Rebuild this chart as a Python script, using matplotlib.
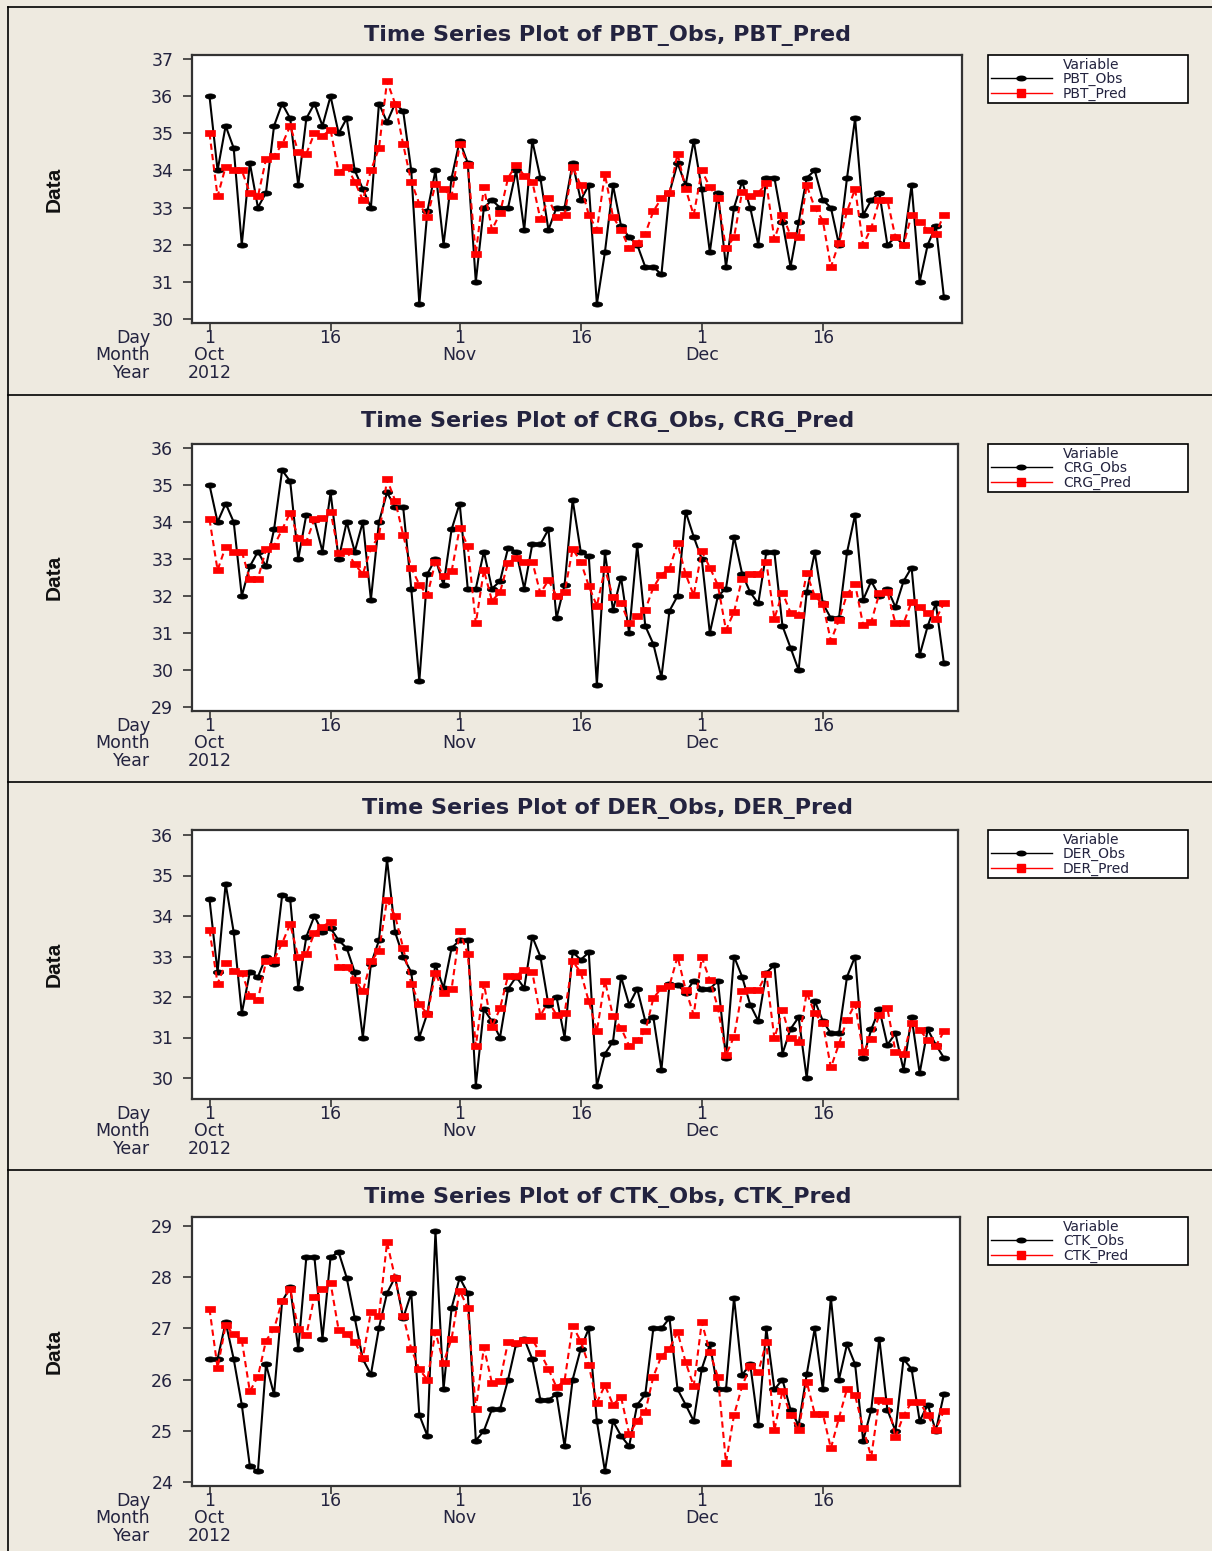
import numpy as np
import pandas as pd
import matplotlib
matplotlib.use("Agg")
import matplotlib.pyplot as plt
from matplotlib.path import Path
from matplotlib.lines import Line2D

# ---------------- data ----------------
dates = pd.date_range("2012-10-01", "2012-12-31", freq="D")

pbt_obs = [36.0, 34.0, 35.2, 34.6, 32.0, 34.2, 33.0, 33.4, 35.2, 35.8, 35.4, 33.6, 35.4, 35.8, 35.2, 36.0,
           35.0, 35.4, 34.0, 33.5, 33.0, 35.8, 35.3, 35.8, 35.6, 34.0, 30.4, 32.9, 34.0, 32.0, 33.8, 34.8,
           34.2, 31.0, 33.0, 33.2, 33.0, 33.0, 34.0, 32.4, 34.8, 33.8, 32.4, 33.0, 33.0,
           34.2, 33.2, 33.6, 30.4, 31.8, 33.6, 32.5, 32.2, 32.0, 31.4, 31.4, 31.2, 33.4, 34.2, 33.6, 34.8,
           33.5, 31.8, 33.4, 31.4, 33.0, 33.7, 33.0, 32.0, 33.8, 33.8, 32.6, 31.4, 32.6, 33.8, 34.0, 33.2,
           33.0, 32.0, 33.8, 35.4, 32.8, 33.2, 33.4, 32.0, 32.2, 32.0, 33.6, 31.0, 32.0, 32.5, 30.6]
pbt_pred = [35.0, 33.3, 34.1, 34.0, 34.0, 33.4, 33.3, 34.3, 34.4, 34.7, 35.2, 34.5, 34.45, 35.0, 34.93, 35.1,
            33.95, 34.1, 33.7, 33.2, 34.0, 34.6, 36.4, 35.8, 34.7, 33.7, 33.1, 32.75, 33.63, 33.5, 33.3, 34.7,
            34.15, 31.75, 33.55, 32.4, 32.85, 33.8, 34.15, 33.86, 33.7, 32.69, 33.25, 32.75, 32.8,
            34.1, 33.6, 32.8, 32.4, 33.9, 32.75, 32.4, 31.9, 32.05, 32.3, 32.9, 33.25, 33.4, 34.45, 33.5, 32.8,
            34.0, 33.55, 33.25, 31.9, 32.2, 33.43, 33.3, 33.4, 33.65, 32.15, 32.8, 32.25, 32.2, 33.6, 33.0, 32.65,
            31.4, 32.05, 32.9, 33.5, 32.0, 32.45, 33.2, 33.2, 32.2, 32.0, 32.8, 32.6, 32.4, 32.3, 32.8]

crg_obs = [35.0, 34.0, 34.5, 34.0, 32.0, 32.8, 33.2, 32.8, 33.8, 35.4, 35.1, 33.0, 34.2, 34.05, 33.2, 34.8,
           33.0, 34.0, 33.2, 34.0, 31.9, 34.0, 34.8, 34.4, 34.4, 32.2, 29.7, 32.6, 33.0, 32.3, 33.8, 34.5,
           32.2, 32.2, 33.2, 32.2, 32.4, 33.3, 33.2, 32.2, 33.4, 33.4, 33.8, 31.4, 32.3, 34.6, 33.2,
           33.08, 29.6, 33.18, 31.62, 32.5, 31.0, 33.38, 31.19, 30.7, 29.8, 31.6, 32.0, 34.28, 33.6, 33.0,
           31.0, 32.0, 32.2, 33.6, 32.6, 32.1, 31.8, 33.18, 33.18, 31.19, 30.6, 30.0, 32.1, 33.18, 31.8, 31.4,
           31.4, 33.18, 34.2, 31.9, 32.4, 32.0, 32.2, 31.7, 32.4, 32.77, 30.4, 31.19, 31.8, 30.19]
crg_pred = [34.07, 32.7, 33.33, 33.2, 33.2, 32.45, 32.47, 33.26, 33.35, 33.8, 34.25, 33.56, 33.47, 34.07, 34.1,
            34.28, 33.17, 33.21, 32.86, 32.59, 33.29, 33.62, 35.15, 34.58, 33.65, 32.76, 32.31, 32.02, 32.93,
            32.54, 32.67, 33.83, 33.35, 31.26, 32.7, 31.87, 32.1, 32.9, 33.03, 32.93, 32.93, 32.07, 32.43, 32.0,
            32.1, 33.27, 32.93,
            32.27, 31.73, 32.74, 31.96, 31.8, 31.26, 31.45, 31.63, 32.23, 32.58, 32.74, 33.42, 32.59, 32.02,
            33.21, 32.77, 32.29, 31.08, 31.57, 32.47, 32.59, 32.59, 32.91, 31.39, 32.09, 31.55, 31.48, 32.61,
            32.0, 31.78, 30.79, 31.35, 32.05, 32.32, 31.21, 31.3, 32.07, 32.11, 31.26, 31.26, 31.84, 31.69,
            31.53, 31.37, 31.8]

der_obs = [34.41, 32.61, 34.8, 33.6, 31.6, 32.61, 32.5, 32.99, 32.81, 34.51, 34.41, 32.22, 33.49, 34.0, 33.6,
           33.7, 33.4, 33.21, 32.61, 31.0, 32.81, 33.4, 35.4, 33.6, 33.0, 32.61, 31.0, 31.6, 32.8, 32.22, 33.21,
           33.4, 33.4, 29.81, 31.7, 31.4, 31.0, 32.2, 32.5, 32.22, 33.49, 33.0, 31.81, 32.0, 31.0, 33.11, 32.92,
           33.1, 29.81, 30.6, 30.9, 32.5, 31.81, 32.2, 31.41, 31.5, 30.2, 32.32, 32.3, 32.11, 32.4, 32.2, 32.2,
           32.4, 30.5, 33.0, 32.5, 31.81, 31.41, 32.6, 32.79, 30.6, 31.21, 31.5, 30.0, 31.91, 31.41, 31.1, 31.1,
           32.5, 33.0, 30.5, 31.2, 31.7, 30.82, 31.1, 30.2, 31.5, 30.12, 31.2, 30.82, 30.5]
der_pred = [33.65, 32.33, 32.83, 32.65, 32.6, 32.03, 31.93, 32.88, 32.92, 33.33, 33.8, 32.98, 33.06, 33.58, 33.74,
            33.86, 32.75, 32.75, 32.42, 32.14, 32.88, 33.14, 34.4, 34.0, 33.21, 32.33, 31.83, 31.58, 32.59, 32.11,
            32.2, 33.62, 33.06, 30.78, 32.33, 31.26, 31.72, 32.53, 32.53, 32.67, 32.61, 31.54, 31.89, 31.56, 31.6,
            32.88, 32.61,
            31.89, 31.16, 32.4, 31.53, 31.23, 30.8, 30.94, 31.15, 31.97, 32.22, 32.28, 33.0, 32.18, 31.56, 32.98,
            32.42, 31.74, 30.57, 31.02, 32.14, 32.18, 32.18, 32.57, 30.98, 31.67, 30.98, 30.88, 32.11, 31.6,
            31.35, 30.26, 30.84, 31.44, 31.83, 30.63, 30.96, 31.56, 31.72, 30.65, 30.59, 31.35, 31.19, 30.94,
            30.79, 31.15]

ctk_obs = [26.4, 26.4, 27.12, 26.4, 25.51, 24.31, 24.21, 26.3, 25.71, 27.53, 27.8, 26.6, 28.39, 28.39, 26.8,
           28.39, 28.49, 27.99, 27.2, 26.4, 26.1, 27.01, 27.69, 28.0, 27.2, 27.69, 25.31, 24.9, 28.9, 25.81, 27.4,
           27.99, 27.69, 24.81, 25.0, 25.42, 25.42, 26.0, 26.7, 26.8, 26.4, 25.61, 25.61, 25.71, 24.7, 26.0, 26.6,
           27.0, 25.19, 24.21, 25.19, 24.9, 24.7, 25.51, 25.71, 27.0, 27.0, 27.2, 25.81, 25.51, 25.19, 26.21,
           26.69, 25.81, 25.81, 27.6, 26.09, 26.3, 25.11, 27.0, 25.81, 26.0, 25.41, 25.11, 26.1, 27.0, 25.81,
           27.6, 26.0, 26.69, 26.3, 24.81, 25.41, 26.8, 25.41, 25.0, 26.4, 26.21, 25.19, 25.51, 25.0, 25.71]
ctk_pred = [27.38, 26.23, 27.06, 26.89, 26.77, 25.77, 26.06, 26.76, 26.99, 27.54, 27.77, 26.99, 26.87, 27.62,
            27.76, 27.89, 26.97, 26.89, 26.74, 26.43, 27.32, 27.25, 28.68, 27.99, 27.25, 26.6, 26.2, 26.0, 26.93,
            26.33, 26.8, 27.74, 27.4, 25.42, 26.63, 25.93, 25.98, 26.74, 26.71, 26.78, 26.78, 26.52, 26.21, 25.85,
            25.98, 27.05, 26.75,
            26.28, 25.55, 25.89, 25.51, 25.66, 24.94, 25.19, 25.37, 26.06, 26.46, 26.6, 26.93, 26.34, 25.87,
            27.12, 26.54, 26.05, 24.38, 25.31, 25.87, 26.26, 26.15, 26.73, 25.01, 25.78, 25.3, 25.01, 25.96,
            25.33, 25.33, 24.66, 25.25, 25.82, 25.69, 25.05, 24.49, 25.61, 25.59, 24.87, 25.3, 25.56, 25.56,
            25.3, 25.02, 25.39]

series_names = ["PBT", "CRG", "DER", "CTK"]
obs_values = [pbt_obs, crg_obs, der_obs, ctk_obs]
pred_values = [pbt_pred, crg_pred, der_pred, ctk_pred]
y_ticks = [list(range(30, 38)), list(range(29, 37)), list(range(30, 37)), list(range(24, 30))]

# ---------------- layout (pixels) ----------------
W, H = 1212, 1551
BG = "#EEEAE0"
TXT = "#23233f"

panels = [
    dict(l=192, r=962, t=55, b=323, ya=(37, 59), yb=(30, 319), title_y=35),
    dict(l=192, r=958, t=444, b=711, ya=(36, 448), yb=(29, 707), title_y=422),
    dict(l=192, r=958, t=830, b=1099, ya=(36, 835), yb=(30, 1078), title_y=809),
    dict(l=192, r=960, t=1217, b=1486, ya=(29, 1226), yb=(24, 1482), title_y=1197),
]
X0_PX = 209.5
PX_PER_DAY = 8.07

fig = plt.figure(figsize=(W / 100, H / 100), dpi=100, facecolor=BG)

theta = np.linspace(0, 2 * np.pi, 33)
ellipse = Path(np.column_stack([np.cos(theta), 0.5 * np.sin(theta)]), closed=True)
rect = Path([(-1, -0.6), (1, -0.6), (1, 0.6), (-1, 0.6), (-1, -0.6)], closed=True)

x = np.arange(len(dates))
tick_idx = [i for i, d in enumerate(dates) if d.day in (1, 16)]
tick_labels = []
first = True
for i in tick_idx:
    d = dates[i]
    lab = str(d.day)
    if d.day == 1:
        lab += "\n" + d.strftime("%b")
        if first:
            lab += "\n" + str(d.year)
            first = False
    tick_labels.append(lab)

FS_TICK = 12.5
LSP = 0.98
TICK_LEN = 6.0
XPAD = -2.0

for k, p in enumerate(panels):
    ax = fig.add_axes([p["l"] / W, 1 - p["b"] / H, (p["r"] - p["l"]) / W, (p["b"] - p["t"]) / H])
    ax.set_facecolor("white")
    (va, pa), (vb, pb) = p["ya"], p["yb"]
    ppu = (pb - pa) / (va - vb)
    ax.set_ylim(vb - (p["b"] - pb) / ppu, va + (pa - p["t"]) / ppu)
    ax.set_xlim(-(X0_PX - p["l"]) / PX_PER_DAY, (p["r"] - X0_PX) / PX_PER_DAY)

    ax.plot(x, obs_values[k], color="black", lw=1.5, marker=ellipse, ms=7.5,
            mec="black", mfc="black", mew=0.5, zorder=3)
    ax.plot(x, pred_values[k], color="red", lw=1.5, ls=(0, (3, 2)), marker=rect, ms=7.5,
            mec="red", mfc="red", mew=0.5, zorder=4)

    ax.set_yticks(y_ticks[k])
    ax.set_yticklabels([str(v) for v in y_ticks[k]])
    ax.set_xticks(tick_idx)
    ax.set_xticklabels(tick_labels, linespacing=LSP)
    ax.tick_params(axis="both", direction="out", length=TICK_LEN, width=1.2, color="#333333",
                   labelsize=FS_TICK, labelcolor=TXT)
    ax.tick_params(axis="y", pad=7, length=6.5)
    ax.tick_params(axis="x", pad=XPAD)
    for s in ax.spines.values():
        s.set_color("#333333")
        s.set_linewidth(1.6)

    fig.text(150 / W, 1 - (p["b"] + (TICK_LEN + XPAD) * 100 / 72) / H, "Day\nMonth\nYear",
             ha="right", va="top", multialignment="right", fontsize=FS_TICK,
             color=TXT, linespacing=LSP)
    fig.text(54 / W, 1 - ((p["t"] + p["b"]) / 2) / H, "Data", rotation=90, ha="center", va="center",
             fontsize=15, fontweight="bold", color="#111111",
             family=["Liberation Sans Narrow", "Liberation Sans", "DejaVu Sans"])
    name = series_names[k]
    fig.text(608 / W, 1 - p["title_y"] / H, f"Time Series Plot of {name}_Obs, {name}_Pred",
             ha="center", va="center", fontsize=16, fontweight="bold", color=TXT)

    hv = Line2D([], [], linestyle="none")
    ho = Line2D([], [], color="black", lw=1.0, marker=ellipse, ms=6.5, mfc="black", mec="black")
    hp = Line2D([], [], color="red", lw=1.0, marker="s", ms=5.5, mfc="red", mec="red")
    leg = ax.legend([hv, ho, hp], ["Variable", f"{name}_Obs", f"{name}_Pred"],
                    loc="upper left", bbox_to_anchor=(988 / W, 1 - p["t"] / H, 200 / W, 0),
                    bbox_transform=fig.transFigure, mode="expand", borderaxespad=0,
                    fontsize=10, frameon=True, fancybox=False, edgecolor="black", framealpha=1,
                    facecolor="white", borderpad=0.2, labelspacing=0.02, handlelength=4.4,
                    handletextpad=0.8)
    leg.get_frame().set_linewidth(1.2)
    for t in leg.get_texts():
        t.set_color(TXT)

def hline(y, x0=8, x1=W):
    fig.add_artist(Line2D([x0 / W, x1 / W], [1 - y / H, 1 - y / H], transform=fig.transFigure,
                          color="black", lw=1.2))

hline(7)
for yy in (395, 782, 1170):
    hline(yy)
fig.add_artist(Line2D([8 / W, 8 / W], [1 - 7 / H, 0], transform=fig.transFigure, color="black", lw=1.2))

fig.savefig("out.png", dpi=100, facecolor=BG)
